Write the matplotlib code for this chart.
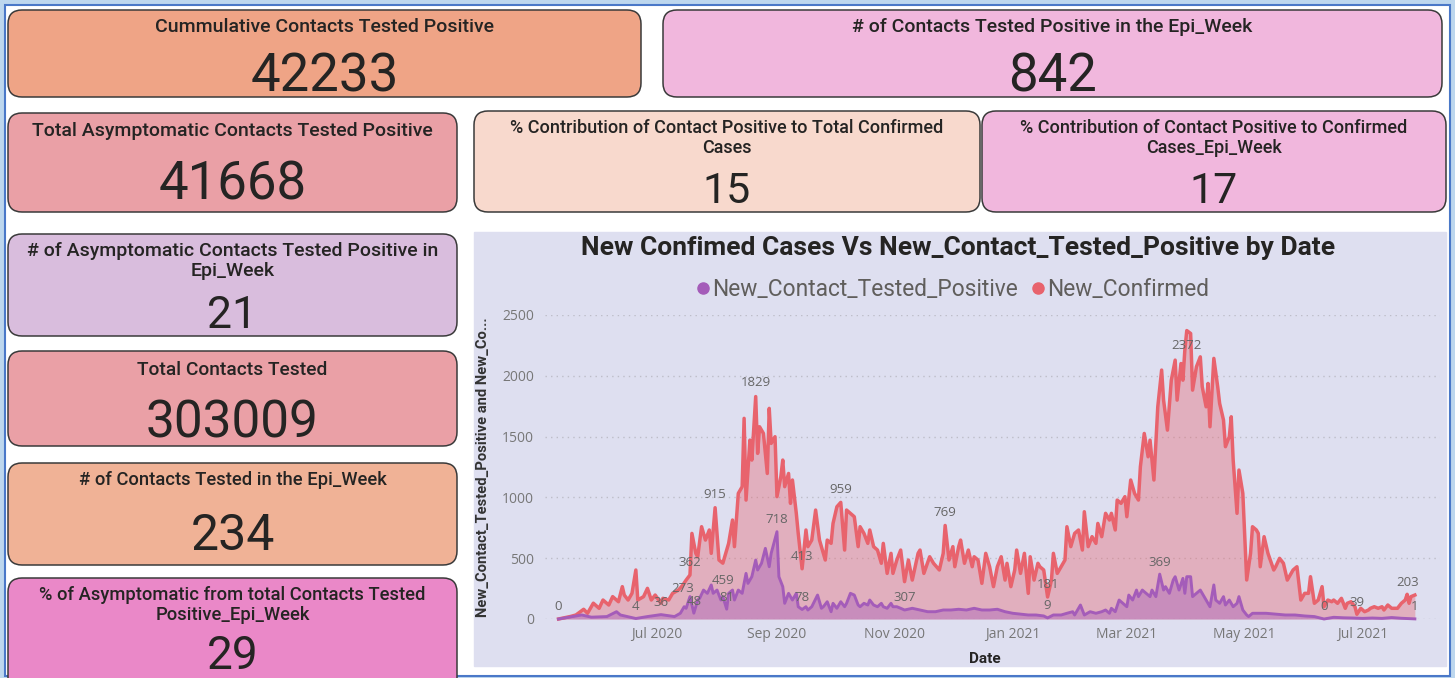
import matplotlib
matplotlib.use("Agg")
import pandas as pd
import matplotlib.pyplot as plt
import matplotlib.dates as mdates
from matplotlib.patches import FancyBboxPatch, Rectangle

plt.rcParams["font.family"] = ["Roboto", "DejaVu Sans"]

# ---- KPI cards ----
card_titles = [
    "Cummulative Contacts Tested Positive",
    "# of Contacts Tested Positive in the Epi_Week",
    "Total Asymptomatic Contacts Tested Positive",
    "% Contribution of Contact Positive to Total Confirmed\nCases",
    "% Contribution of Contact Positive to Confirmed\nCases_Epi_Week",
    "# of Asymptomatic Contacts Tested Positive in\nEpi_Week",
    "Total Contacts Tested",
    "# of Contacts Tested in the Epi_Week",
    "% of Asymptomatic from total Contacts Tested\nPositive_Epi_Week",
]
card_values = [42233, 842, 41668, 15, 17, 21, 303009, 234, 29]
card_colors = ["#EFA486", "#F1B7DD", "#EAA0A6", "#F8D9CD", "#F1B7DD",
               "#D9BDDD", "#EAA0A6", "#F0B296", "#EA88C8"]

# ---- chart series ----
chart_title = "New Confimed Cases Vs New_Contact_Tested_Positive by Date"
conf_name = "New_Confirmed"
pos_name = "New_Contact_Tested_Positive"

conf_dates = [
    "2020-05-11", "2020-05-17", "2020-05-20", "2020-05-24", "2020-05-26", "2020-05-29",
    "2020-06-01", "2020-06-03", "2020-06-06", "2020-06-08", "2020-06-11", "2020-06-13", "2020-06-14", "2020-06-16",
    "2020-06-18", "2020-06-20", "2020-06-21", "2020-06-24", "2020-06-26", "2020-06-28", "2020-06-30",
    "2020-07-03", "2020-07-04", "2020-07-07", "2020-07-09", "2020-07-12", "2020-07-14", "2020-07-16", "2020-07-18",
    "2020-07-19", "2020-07-21", "2020-07-22", "2020-07-24", "2020-07-26", "2020-07-28", "2020-07-29", "2020-07-31",
    "2020-08-02", "2020-08-04", "2020-08-07", "2020-08-09", "2020-08-10", "2020-08-12", "2020-08-14", "2020-08-15",
    "2020-08-16", "2020-08-18", "2020-08-19", "2020-08-21", "2020-08-22", "2020-08-23", "2020-08-25", "2020-08-27",
    "2020-08-28", "2020-08-29", "2020-08-31",
    "2020-09-01", "2020-09-03", "2020-09-04", "2020-09-05", "2020-09-07", "2020-09-08", "2020-09-09", "2020-09-11",
    "2020-09-12", "2020-09-14", "2020-09-16", "2020-09-17", "2020-09-19", "2020-09-21", "2020-09-23", "2020-09-24",
    "2020-09-26", "2020-09-27", "2020-09-29", "2020-09-30",
    "2020-10-02", "2020-10-04", "2020-10-06", "2020-10-07", "2020-10-09", "2020-10-11", "2020-10-13", "2020-10-14",
    "2020-10-16", "2020-10-18", "2020-10-19", "2020-10-21", "2020-10-23", "2020-10-25", "2020-10-26", "2020-10-28",
    "2020-10-30", "2020-10-31",
    "2020-11-02", "2020-11-04", "2020-11-06", "2020-11-08", "2020-11-10", "2020-11-13", "2020-11-14", "2020-11-16",
    "2020-11-19", "2020-11-21", "2020-11-24", "2020-11-26", "2020-11-27", "2020-11-29",
    "2020-12-01", "2020-12-02", "2020-12-04", "2020-12-05", "2020-12-07", "2020-12-09", "2020-12-11", "2020-12-12",
    "2020-12-14", "2020-12-16", "2020-12-18", "2020-12-20", "2020-12-22", "2020-12-24", "2020-12-26", "2020-12-28",
    "2020-12-29", "2020-12-31",
    "2021-01-02", "2021-01-03", "2021-01-05", "2021-01-07", "2021-01-09", "2021-01-10", "2021-01-12", "2021-01-14",
    "2021-01-15", "2021-01-17", "2021-01-19", "2021-01-21", "2021-01-22", "2021-01-24", "2021-01-26", "2021-01-28",
    "2021-01-29", "2021-01-31",
    "2021-02-02", "2021-02-04", "2021-02-06", "2021-02-07", "2021-02-09", "2021-02-11", "2021-02-13", "2021-02-14",
    "2021-02-16", "2021-02-18", "2021-02-20", "2021-02-21", "2021-02-23", "2021-02-24", "2021-02-26", "2021-02-28",
    "2021-03-01", "2021-03-03", "2021-03-05", "2021-03-07", "2021-03-08", "2021-03-10", "2021-03-12", "2021-03-13",
    "2021-03-15", "2021-03-17", "2021-03-19", "2021-03-20", "2021-03-22", "2021-03-24", "2021-03-26", "2021-03-27",
    "2021-03-29", "2021-03-30", "2021-03-31",
    "2021-04-01", "2021-04-03", "2021-04-04", "2021-04-06", "2021-04-08", "2021-04-09", "2021-04-11", "2021-04-12",
    "2021-04-13", "2021-04-15", "2021-04-17", "2021-04-18", "2021-04-20", "2021-04-21", "2021-04-23", "2021-04-24",
    "2021-04-25", "2021-04-27", "2021-04-28", "2021-04-30",
    "2021-05-02", "2021-05-04", "2021-05-05", "2021-05-07", "2021-05-08", "2021-05-09", "2021-05-11", "2021-05-13",
    "2021-05-16", "2021-05-17", "2021-05-19", "2021-05-21", "2021-05-23", "2021-05-26", "2021-05-28", "2021-05-30",
    "2021-06-01", "2021-06-03", "2021-06-04", "2021-06-06", "2021-06-08", "2021-06-10", "2021-06-11", "2021-06-13",
    "2021-06-15", "2021-06-16", "2021-06-18", "2021-06-20", "2021-06-22", "2021-06-23", "2021-06-25", "2021-06-27",
    "2021-06-28", "2021-06-30",
    "2021-07-02", "2021-07-04", "2021-07-05", "2021-07-07", "2021-07-09", "2021-07-11", "2021-07-12", "2021-07-14",
    "2021-07-16", "2021-07-18", "2021-07-19", "2021-07-21", "2021-07-23", "2021-07-24", "2021-07-25", "2021-07-26",
    "2021-07-28",
]
conf_vals = [
    0, 20, 33, 80, 47, 130,
    88, 156, 115, 184, 142, 266, 197, 156,
    211, 403, 156, 184, 252, 156, 197,
    130, 170, 156, 211, 238, 273, 320, 362,
    704, 540, 512, 759, 649, 732, 540, 915,
    485, 459, 622, 814, 595, 1033, 1088, 1650,
    978, 1471, 1307, 1829, 1362, 1581, 1526, 1197,
    1732, 1444, 1499,
    1006, 1170, 1307, 1088, 1197, 951, 1143, 869,
    704, 413, 732, 595, 649, 896, 649, 595,
    485, 649, 622, 786,
    923, 959, 567, 896, 869, 841, 595, 759,
    704, 622, 732, 595, 567, 458, 622, 375,
    540, 375,
    485, 567, 307, 485, 320, 540, 567, 375,
    512, 458, 403, 540, 769, 485,
    595, 430, 595, 649, 458, 567, 430, 512,
    485, 293, 540, 430, 266, 430, 512, 320,
    458, 266,
    403, 567, 375, 540, 211, 512, 320, 458,
    430, 403, 181, 320, 540, 375, 430, 485,
    759, 595,
    704, 732, 567, 882, 595, 677, 622, 786,
    677, 869, 814, 869, 732, 978, 951, 1006,
    841, 1143, 1033, 978, 1252, 1526, 1334, 1471,
    1143, 1745, 2047, 1800, 1553, 1964, 2129, 1800,
    2101, 1964, 2211,
    2372, 2348, 1882, 2074, 2156, 1910, 1745, 1937,
    1581, 2143, 1910, 1773, 1636, 1417, 1499, 1663,
    1307, 869, 1225, 1033,
    321, 540, 759, 732, 704, 430, 677, 540,
    403, 430, 499, 458, 320, 403, 430, 156,
    211, 211, 348, 129, 156, 266, 101, 156,
    142, 156, 129, 170, 88, 129, 142, 101,
    39, 88,
    60, 74, 88, 101, 88, 101, 74, 115,
    88, 88, 88, 129, 156, 203, 129, 184,
    197,
]

pos_dates = [
    "2020-05-11", "2020-05-23", "2020-05-28",
    "2020-06-05", "2020-06-10", "2020-06-12", "2020-06-20", "2020-06-26",
    "2020-07-03", "2020-07-10", "2020-07-13", "2020-07-15", "2020-07-16", "2020-07-18", "2020-07-20", "2020-07-22",
    "2020-07-23", "2020-07-25", "2020-07-27", "2020-07-29", "2020-07-30",
    "2020-08-01", "2020-08-03", "2020-08-04", "2020-08-06", "2020-08-07", "2020-08-09", "2020-08-10", "2020-08-12",
    "2020-08-14", "2020-08-16", "2020-08-17", "2020-08-19", "2020-08-21", "2020-08-22", "2020-08-24", "2020-08-26",
    "2020-08-28", "2020-08-29",
    "2020-09-01", "2020-09-02", "2020-09-04", "2020-09-05", "2020-09-07", "2020-09-09", "2020-09-11", "2020-09-12",
    "2020-09-14", "2020-09-16", "2020-09-17", "2020-09-19", "2020-09-22", "2020-09-24", "2020-09-25", "2020-09-27",
    "2020-09-29", "2020-09-30",
    "2020-10-02", "2020-10-04", "2020-10-06", "2020-10-07", "2020-10-09", "2020-10-11", "2020-10-13", "2020-10-14",
    "2020-10-16", "2020-10-18", "2020-10-19", "2020-10-21", "2020-10-23", "2020-10-25", "2020-10-26", "2020-10-28",
    "2020-10-30", "2020-10-31",
    "2020-11-02", "2020-11-04", "2020-11-06", "2020-11-10", "2020-11-14", "2020-11-18", "2020-11-22", "2020-11-26",
    "2020-11-30",
    "2020-12-04", "2020-12-08", "2020-12-12", "2020-12-16", "2020-12-20", "2020-12-24", "2020-12-28",
    "2021-01-01", "2021-01-05", "2021-01-09", "2021-01-13", "2021-01-17", "2021-01-19", "2021-01-22", "2021-01-26",
    "2021-01-29",
    "2021-02-01", "2021-02-02", "2021-02-05", "2021-02-07", "2021-02-10", "2021-02-13", "2021-02-16", "2021-02-18",
    "2021-02-20", "2021-02-21", "2021-02-23", "2021-02-25", "2021-02-27",
    "2021-03-01", "2021-03-02", "2021-03-04", "2021-03-06", "2021-03-07", "2021-03-09", "2021-03-11", "2021-03-13",
    "2021-03-14", "2021-03-16", "2021-03-18", "2021-03-20", "2021-03-21", "2021-03-23", "2021-03-25", "2021-03-26",
    "2021-03-28", "2021-03-30", "2021-03-31",
    "2021-04-01", "2021-04-03", "2021-04-04", "2021-04-06", "2021-04-08", "2021-04-09", "2021-04-11", "2021-04-13",
    "2021-04-15", "2021-04-16", "2021-04-18", "2021-04-20", "2021-04-21", "2021-04-23", "2021-04-25", "2021-04-27",
    "2021-04-28", "2021-04-30",
    "2021-05-02", "2021-05-03", "2021-05-05", "2021-05-07", "2021-05-12", "2021-05-17", "2021-05-22", "2021-05-27",
    "2021-06-01", "2021-06-06", "2021-06-11", "2021-06-16", "2021-06-21", "2021-06-26",
    "2021-07-01", "2021-07-06", "2021-07-11", "2021-07-16", "2021-07-21", "2021-07-28",
]
pos_vals = [
    0, 33, 15,
    20, 60, 33, 4, 20,
    36, 20, 47, 101, 88, 184, 48, 156,
    170, 238, 211, 280, 211,
    238, 156, 184, 81, 211, 238, 156, 238,
    211, 375, 293, 348, 485, 403, 458, 581,
    430, 540,
    718, 348, 266, 129, 211, 156, 211, 101,
    78, 101, 74, 101, 197, 88, 101, 142,
    60, 129,
    88, 142, 101, 129, 211, 197, 115, 101,
    129, 115, 156, 115, 101, 129, 101, 88,
    129, 101,
    101, 88, 74, 88, 74, 60, 60, 74,
    74,
    80, 74, 88, 74, 74, 80, 60,
    47, 40, 33, 33, 25, 9, 33, 33,
    47,
    60, 33, 115, 33, 60, 47, 60, 74,
    47, 88, 60, 156, 129,
    101, 197, 156, 238, 184, 238, 211, 184,
    238, 184, 369, 238, 266, 211, 321, 348,
    238, 334, 211,
    348, 348, 184, 211, 238, 211, 156, 101,
    280, 156, 129, 184, 115, 156, 101, 129,
    184, 74,
    33, 20, 47, 47, 47, 40, 33, 33,
    25, 20, 0, 14, 10, 8,
    5, 8, 5, 12, 6, 1,
]

# data labels shown on the chart
conf_label_dates = ["2020-05-11", "2020-07-14", "2020-07-18", "2020-07-31", "2020-08-04", "2020-08-21",
                    "2020-09-14", "2020-10-04", "2020-11-06", "2020-11-27", "2021-01-19", "2021-04-01",
                    "2021-06-28", "2021-07-24"]
pos_label_dates = ["2020-06-20", "2020-07-03", "2020-07-20", "2020-08-06", "2020-09-01", "2020-09-14",
                   "2021-01-19", "2021-03-18", "2021-06-11", "2021-07-28"]

assert len(conf_dates) == len(conf_vals)
assert len(pos_dates) == len(pos_vals)

conf = pd.Series(conf_vals, index=pd.to_datetime(conf_dates))
pos = pd.Series(pos_vals, index=pd.to_datetime(pos_dates))

# ---- layout (pixels) ----
W, H = 1455, 678
# x0, y0, x1, y1, title centre y, value baseline y, title size, value size
card_boxes = [
    (8, 10, 641, 97, 27, 91, 14, 38),
    (663, 10, 1442, 97, 27, 91, 14, 38),
    (8, 113, 457, 212, 131, 200, 14, 38),
    (474, 111, 980, 212, 138, 203, 13, 31),
    (982, 111, 1446, 212, 138, 203, 13, 31),
    (8, 234, 457, 336, 261, 328, 14, 32),
    (8, 351, 457, 446, 370, 437, 13.8, 37),
    (8, 463, 457, 565, 480, 550, 13.2, 36),
    (8, 578, 457, 700, 605, 669, 13.2, 33),
]
red = "#E8636D"
purple = "#A45CB9"

fig = plt.figure(figsize=(W / 100, H / 100), dpi=100)
bg = fig.add_axes([0, 0, 1, 1])
bg.set_xlim(0, W)
bg.set_ylim(H, 0)
bg.axis("off")

bg.add_patch(Rectangle((0, 0), W, H, color="#BDD7EE", zorder=0))
bg.add_patch(Rectangle((5, 5), 1445, 671, facecolor="white", edgecolor="#4A78C8", lw=1.5, zorder=0.5))

for (x0, y0, x1, y1, ty, vy, ts, vs), title, value, color in zip(card_boxes, card_titles, card_values, card_colors):
    bg.add_patch(FancyBboxPatch((x0, y0), x1 - x0, y1 - y0, boxstyle="round,pad=0,rounding_size=14",
                                facecolor=color, edgecolor="#3A3A3A", lw=1.1, zorder=1, clip_on=True))
    bg.text((x0 + x1) / 2, ty, title, ha="center", va="center", fontsize=ts, color="#252423",
            fontweight="medium", linespacing=1.18, zorder=2)
    bg.text((x0 + x1) / 2, vy, str(value), ha="center", va="baseline", fontsize=vs, color="#252423", zorder=2)

# chart visual background, title and legend
bg.add_patch(Rectangle((474, 232), 972, 434, color="#DEDFF0", zorder=1))
bg.text(958, 248, chart_title, ha="center", va="center", fontsize=19, fontweight="bold", color="#252423", zorder=2)
bg.plot([703], [288], "o", ms=8, color=purple, zorder=2)
bg.text(712, 289, pos_name, ha="left", va="center", fontsize=16.4, color="#605E5C", zorder=2)
bg.plot([1038], [288], "o", ms=8, color=red, zorder=2)
bg.text(1047, 289, conf_name, ha="left", va="center", fontsize=16.4, color="#605E5C", zorder=2)

ax = fig.add_axes([545 / W, (H - 619) / H, (1440 - 545) / W, (619 - 315) / H])
ax.set_facecolor("none")
ax.fill_between(conf.index, conf.values, color=red, alpha=0.38, lw=0)
ax.plot(conf.index, conf.values, color=red, lw=2.5, clip_on=False)
ax.fill_between(pos.index, pos.values, color=purple, alpha=0.4, lw=0)
ax.plot(pos.index, pos.values, color=purple, lw=2.1, clip_on=False)

ax.set_ylim(0, 2500)
ax.set_xlim(pd.Timestamp("2020-05-04"), pd.Timestamp("2021-08-10"))
ax.set_yticks([0, 500, 1000, 1500, 2000, 2500])
ax.xaxis.set_major_locator(mdates.MonthLocator(bymonth=[1, 3, 5, 7, 9, 11]))
ax.xaxis.set_major_formatter(mdates.DateFormatter("%b %Y"))
ax.tick_params(length=0, labelsize=10, labelcolor="#777777")
ax.tick_params(axis="y", pad=8)
ax.tick_params(axis="x", pad=6)
for lab in ax.get_xticklabels() + ax.get_yticklabels():
    lab.set_family(["Open Sans", "DejaVu Sans"])
ax.grid(axis="y", color="#BDBDC8", linestyle=(0, (1, 3)), lw=1)
ax.set_axisbelow(True)
for s in ax.spines.values():
    s.set_visible(False)

ax.set_ylabel("New_Contact_Tested_Positive and New_Co...", fontsize=10.6, fontweight="bold", color="#333333")
ax.yaxis.set_label_coords(-0.0615, 0.5)
ax.set_xlabel("Date", fontsize=11, fontweight="bold", color="#252423")
ax.xaxis.set_label_coords(0.4916, -0.108)

conf_offsets = [12, -3, 12, 13, -17, 14, 12, 13, -16, 13, 12, -15, 12, 12]
for d, off in zip(conf_label_dates, conf_offsets):
    t = pd.Timestamp(d)
    ax.annotate(str(conf[t]), (t, conf[t]), xytext=(0, off), textcoords="offset pixels",
                ha="center", va="center", fontsize=9.5, color="#666666", family=["Open Sans", "DejaVu Sans"])
for d in pos_label_dates:
    t = pd.Timestamp(d)
    ax.annotate(str(pos[t]), (t, pos[t]), xytext=(0, 12), textcoords="offset pixels",
                ha="center", va="center", fontsize=9.5, color="#666666", family=["Open Sans", "DejaVu Sans"])

fig.savefig("out.png", dpi=100)
